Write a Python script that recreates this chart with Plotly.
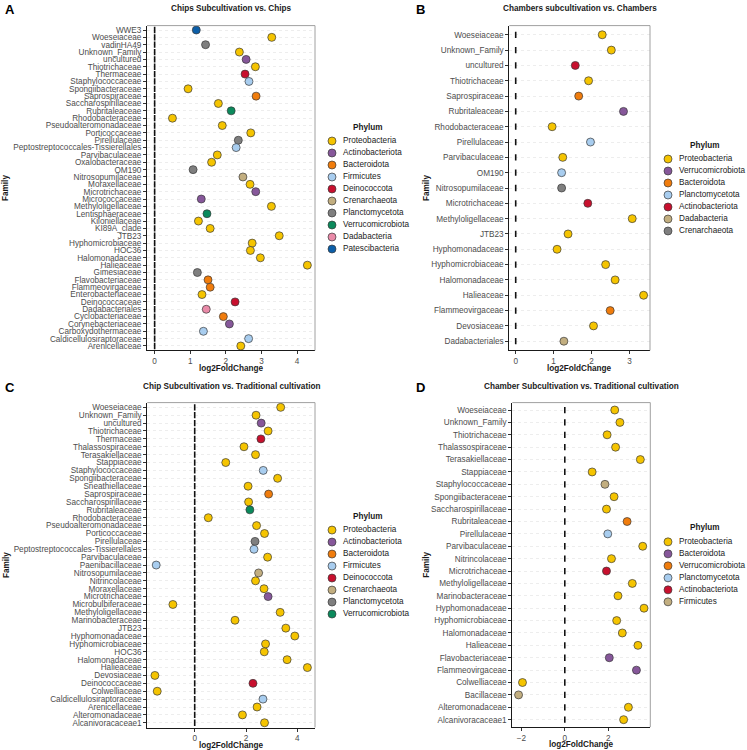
import plotly.graph_objects as go

W, H = 747, 750
FONT = "Liberation Sans, Arial, sans-serif"

PALETTE = ["#F5C400", "#86579A", "#F07C0C", "#A8CDEF", "#C8102E",
           "#C2AE80", "#7F7F7F", "#0B8A5C", "#E98AA8", "#0B5EA8"]

# ---------------- Panel A ----------------
a_title = "Chips Subcultivation vs. Chips"
a_family = ["WWE3", "Woeseiaceae", "vadinHA49", "Unknown_Family", "uncultured",
            "Thiotrichaceae", "Thermaceae", "Staphylococcaceae", "Spongiibacteraceae",
            "Saprospiraceae", "Saccharospirillaceae", "Rubritaleaceae", "Rhodobacteraceae",
            "Pseudoalteromonadaceae", "Porticoccaceae", "Pirellulaceae",
            "Peptostreptococcales-Tissierellales", "Parvibaculaceae", "Oxalobacteraceae",
            "OM190", "Nitrosopumilaceae", "Moraxellaceae", "Microtrichaceae",
            "Micrococcaceae", "Methyloligellaceae", "Lentisphaeraceae", "Kiloniellaceae",
            "KI89A_clade", "JTB23", "Hyphomicrobiaceae", "HOC36", "Halomonadaceae",
            "Halieaceae", "Gimesiaceae", "Flavobacteriaceae", "Flammeovirgaceae",
            "Enterobacteriaceae", "Deinococcaceae", "Dadabacteriales", "Cyclobacteriaceae",
            "Corynebacteriaceae", "Carboxydothermaceae", "Caldicellulosiraptoraceae",
            "Arenicellaceae"]
a_lfc = [1.17, 3.29, 1.43, 2.38, 2.57, 2.83, 2.54, 2.65, 0.94, 2.85, 1.79, 2.15, 0.50,
         1.90, 2.70, 2.35, 2.29, 1.76, 1.60, 1.08, 2.48, 2.68, 2.84, 1.31, 3.28, 1.47,
         1.23, 1.56, 3.50, 2.74, 2.69, 2.97, 4.29, 1.20, 1.50, 1.56, 1.33, 2.26, 1.45,
         1.93, 2.10, 1.37, 2.64, 2.42]
a_phylum = ["Patescibacteria", "Proteobacteria", "Planctomycetota", "Proteobacteria",
            "Actinobacteriota", "Proteobacteria", "Deinococcota", "Firmicutes",
            "Proteobacteria", "Bacteroidota", "Proteobacteria", "Verrucomicrobiota",
            "Proteobacteria", "Proteobacteria", "Proteobacteria", "Planctomycetota",
            "Firmicutes", "Proteobacteria", "Proteobacteria", "Planctomycetota",
            "Crenarchaeota", "Proteobacteria", "Actinobacteriota", "Actinobacteriota",
            "Proteobacteria", "Verrucomicrobiota", "Proteobacteria", "Proteobacteria",
            "Proteobacteria", "Proteobacteria", "Proteobacteria", "Proteobacteria",
            "Proteobacteria", "Planctomycetota", "Bacteroidota", "Bacteroidota",
            "Proteobacteria", "Deinococcota", "Dadabacteria", "Bacteroidota",
            "Actinobacteriota", "Firmicutes", "Firmicutes", "Proteobacteria"]
a_legend = ["Proteobacteria", "Actinobacteriota", "Bacteroidota", "Firmicutes",
            "Deinococcota", "Crenarchaeota", "Planctomycetota", "Verrucomicrobiota",
            "Dadabacteria", "Patescibacteria"]
a_ticks = [0, 1, 2, 3, 4]

# ---------------- Panel B ----------------
b_title = "Chambers subcultivation vs. Chambers"
b_family = ["Woeseiaceae", "Unknown_Family", "uncultured", "Thiotrichaceae",
            "Saprospiraceae", "Rubritaleaceae", "Rhodobacteraceae", "Pirellulaceae",
            "Parvibaculaceae", "OM190", "Nitrosopumilaceae", "Microtrichaceae",
            "Methyloligellaceae", "JTB23", "Hyphomonadaceae", "Hyphomicrobiaceae",
            "Halomonadaceae", "Halieaceae", "Flammeovirgaceae", "Devosiaceae",
            "Dadabacteriales"]
b_lfc = [2.28, 2.52, 1.57, 1.92, 1.66, 2.84, 0.96, 1.97, 1.24, 1.21, 1.21, 1.90,
         3.07, 1.38, 1.09, 2.37, 2.62, 3.37, 2.49, 2.05, 1.27]
b_phylum = ["Proteobacteria", "Proteobacteria", "Actinobacteriota", "Proteobacteria",
            "Bacteroidota", "Verrucomicrobiota", "Proteobacteria", "Planctomycetota",
            "Proteobacteria", "Planctomycetota", "Crenarchaeota", "Actinobacteriota",
            "Proteobacteria", "Proteobacteria", "Proteobacteria", "Proteobacteria",
            "Proteobacteria", "Proteobacteria", "Bacteroidota", "Proteobacteria",
            "Dadabacteria"]
b_legend = ["Proteobacteria", "Verrucomicrobiota", "Bacteroidota", "Planctomycetota",
            "Actinobacteriota", "Dadabacteria", "Crenarchaeota"]
b_ticks = [0, 1, 2, 3]

# ---------------- Panel C ----------------
c_title = "Chip Subcultivation vs. Traditional cultivation"
c_family = ["Woeseiaceae", "Unknown_Family", "uncultured", "Thiotrichaceae", "Thermaceae",
            "Thalassospiraceae", "Terasakiellaceae", "Stappiaceae", "Staphylococcaceae",
            "Spongiibacteraceae", "Sneathiellaceae", "Saprospiraceae",
            "Saccharospirillaceae", "Rubritaleaceae", "Rhodobacteraceae",
            "Pseudoalteromonadaceae", "Porticoccaceae", "Pirellulaceae",
            "Peptostreptococcales-Tissierellales", "Parvibaculaceae", "Paenibacillaceae",
            "Nitrosopumilaceae", "Nitrincolaceae", "Moraxellaceae", "Microtrichaceae",
            "Microbulbiferaceae", "Methyloligellaceae", "Marinobacteraceae", "JTB23",
            "Hyphomonadaceae", "Hyphomicrobiaceae", "HOC36", "Halomonadaceae",
            "Halieaceae", "Devosiaceae", "Deinococcaceae", "Colwelliaceae",
            "Caldicellulosiraptoraceae", "Arenicellaceae", "Alteromonadaceae",
            "Alcanivoracaceae1"]
c_lfc = [3.35, 2.39, 2.59, 2.86, 2.58, 1.92, 2.37, 1.21, 2.67, 3.23, 2.08, 2.88, 2.10,
         2.15, 0.53, 2.41, 2.72, 2.35, 2.31, 2.84, -1.50, 2.49, 2.37, 2.70, 2.86, -0.85,
         3.33, 1.57, 3.55, 3.90, 2.76, 2.71, 3.60, 4.39, -1.55, 2.27, -1.46, 2.66, 2.43,
         1.86, 2.72]
c_phylum = ["Proteobacteria", "Proteobacteria", "Actinobacteriota", "Proteobacteria",
            "Deinococcota", "Proteobacteria", "Proteobacteria", "Proteobacteria",
            "Firmicutes", "Proteobacteria", "Proteobacteria", "Bacteroidota",
            "Proteobacteria", "Verrucomicrobiota", "Proteobacteria", "Proteobacteria",
            "Proteobacteria", "Planctomycetota", "Firmicutes", "Proteobacteria",
            "Firmicutes", "Crenarchaeota", "Proteobacteria", "Proteobacteria",
            "Actinobacteriota", "Proteobacteria", "Proteobacteria", "Proteobacteria",
            "Proteobacteria", "Proteobacteria", "Proteobacteria", "Proteobacteria",
            "Proteobacteria", "Proteobacteria", "Proteobacteria", "Deinococcota",
            "Proteobacteria", "Firmicutes", "Proteobacteria", "Proteobacteria",
            "Proteobacteria"]
c_legend = ["Proteobacteria", "Actinobacteriota", "Bacteroidota", "Firmicutes",
            "Deinococcota", "Crenarchaeota", "Planctomycetota", "Verrucomicrobiota"]
c_ticks = [0, 2, 4]

# ---------------- Panel D ----------------
d_title = "Chamber Subcultivation vs. Traditional cultivation"
d_family = ["Woeseiaceae", "Unknown_Family", "Thiotrichaceae", "Thalassospiraceae",
            "Terasakiellaceae", "Stappiaceae", "Staphylococcaceae", "Spongiibacteraceae",
            "Saccharospirillaceae", "Rubritaleaceae", "Pirellulaceae", "Parvibaculaceae",
            "Nitrincolaceae", "Microtrichaceae", "Methyloligellaceae", "Marinobacteraceae",
            "Hyphomonadaceae", "Hyphomicrobiaceae", "Halomonadaceae", "Halieaceae",
            "Flavobacteriaceae", "Flammeovirgaceae", "Colwelliaceae", "Bacillaceae",
            "Alteromonadaceae", "Alcanivoracaceae1"]
d_lfc = [2.30, 2.54, 1.95, 2.34, 3.48, 1.26, 1.85, 2.27, 1.92, 2.87, 1.98, 3.59, 2.15,
         1.92, 3.11, 2.45, 3.65, 2.39, 2.65, 3.37, 2.05, 3.30, -1.95, -2.13, 2.93, 2.71]
d_phylum = ["Proteobacteria", "Proteobacteria", "Proteobacteria", "Proteobacteria",
            "Proteobacteria", "Proteobacteria", "Firmicutes", "Proteobacteria",
            "Proteobacteria", "Verrucomicrobiota", "Planctomycetota", "Proteobacteria",
            "Proteobacteria", "Actinobacteriota", "Proteobacteria", "Proteobacteria",
            "Proteobacteria", "Proteobacteria", "Proteobacteria", "Proteobacteria",
            "Bacteroidota", "Bacteroidota", "Proteobacteria", "Firmicutes",
            "Proteobacteria", "Proteobacteria"]
d_legend = ["Proteobacteria", "Bacteroidota", "Verrucomicrobiota", "Planctomycetota",
            "Actinobacteriota", "Firmicutes"]
d_ticks = [-2, 0, 2]

# ---------------- layout geometry (pixels) ----------------
panels = [
    dict(tag="A", title=a_title, fam=a_family, lfc=a_lfc, phy=a_phylum, leg=a_legend,
         ticks=a_ticks, px=(147, 315), py=(25.6, 350.4), legx=332, legc=368,
         fam_x=6, lab=(3, 9.5), ty=8.5),
    dict(tag="B", title=b_title, fam=b_family, lfc=b_lfc, phy=b_phylum, leg=b_legend,
         ticks=b_ticks, px=(509.3, 650), py=(25.6, 350.4), legx=668, legc=704.5,
         fam_x=427, lab=(414, 9.5), ty=8.5),
    dict(tag="C", title=c_title, fam=c_family, lfc=c_lfc, phy=c_phylum, leg=c_legend,
         ticks=c_ticks, px=(147.3, 315), py=(402.6, 727.5), legx=332, legc=368,
         fam_x=6, lab=(3, 387), ty=386.5),
    dict(tag="D", title=d_title, fam=d_family, lfc=d_lfc, phy=d_phylum, leg=d_legend,
         ticks=d_ticks, px=(512.3, 650.3), py=(402.6, 727.1), legx=668, legc=704.5,
         fam_x=427, lab=(414, 387), ty=386.5),
]


def fx(p):
    return p / W


def fy(p):
    return 1 - p / H


def ax_ids(k):
    s = "" if k == 1 else str(k)
    return f"xaxis{s}", f"yaxis{s}", f"x{s}", f"y{s}"


fig = go.Figure()
layout = dict(
    width=W, height=H, margin=dict(l=0, r=0, t=0, b=0),
    paper_bgcolor="white", plot_bgcolor="white", showlegend=False,
    font=dict(family=FONT, size=8.2, color="#1a1a1a"),
)
annotations = []
shapes = []

FS = 8.2
for i, p in enumerate(panels):
    k = i + 1
    xa, ya, xr, yr = ax_ids(k)
    n = len(p["fam"])
    lo = min(0, min(p["lfc"]))
    hi = max(0, max(p["lfc"]))
    pad = 0.05 * (hi - lo)
    colors = [PALETTE[p["leg"].index(ph)] for ph in p["phy"]]

    # reference line at 0 (one dash per row, as drawn in the original)
    fig.add_trace(go.Scatter(
        x=[0] * n, y=p["fam"], mode="markers", xaxis=xr, yaxis=yr,
        marker=dict(symbol="line-ns", size=4.5, line=dict(color="#111", width=1.6)),
        hoverinfo="skip"))
    fig.add_trace(go.Scatter(
        x=p["lfc"], y=p["fam"], mode="markers", xaxis=xr, yaxis=yr,
        marker=dict(size=8, color=colors, line=dict(color="#3a3a3a", width=0.7)),
        text=p["phy"], cliponaxis=False))

    layout[xa] = dict(
        domain=[fx(p["px"][0]), fx(p["px"][1])], anchor=yr,
        range=[lo - pad, hi + pad], tickvals=p["ticks"], ticks="outside", ticklen=3,
        tickcolor="#333", tickwidth=0.8, showline=True, linecolor="#1a1a1a",
        linewidth=1, showgrid=False, zeroline=False,
        tickfont=dict(size=FS, color="#4d4d4d", family=FONT))
    layout[ya] = dict(
        domain=[fy(p["py"][1]), fy(p["py"][0])], anchor=xr, type="category",
        categoryorder="array", categoryarray=p["fam"][::-1],
        tickmode="array", tickvals=p["fam"], ticktext=p["fam"],
        range=[-0.6, n - 0.4], ticks="outside", ticklen=3, tickcolor="#333",
        tickwidth=0.8, showline=True, linecolor="#1a1a1a", linewidth=1,
        showgrid=True, gridcolor="#ededed", gridwidth=0.6, griddash="dot",
        zeroline=False, tickfont=dict(size=FS, color="#4d4d4d", family=FONT))

    # panel border (top, right)
    shapes.append(dict(type="line", xref=f"{xr} domain", yref=f"{yr} domain",
                       x0=0, x1=1, y0=1, y1=1, line=dict(color="#a0a0a0", width=1)))
    shapes.append(dict(type="line", xref=f"{xr} domain", yref=f"{yr} domain",
                       x0=1, x1=1, y0=0, y1=1, line=dict(color="#a0a0a0", width=1)))

    # legend on its own hidden axis
    m = len(p["leg"])
    _, _, lxr, lyr = ax_ids(k + 4)
    cy = (p["py"][0] + p["py"][1]) / 2
    first = cy - 12 * (m - 1) / 2 + 7
    top = first - 6
    bot = first + 12 * (m - 1) + 6
    layout[f"xaxis{k + 4}"] = dict(domain=[fx(p["legx"]), fx(p["legx"] + 11)], anchor=lyr,
                                   range=[0, 1], visible=False, fixedrange=True)
    layout[f"yaxis{k + 4}"] = dict(domain=[fy(bot), fy(top)], anchor=lxr, type="category",
                                   categoryorder="array", categoryarray=p["leg"][::-1],
                                   range=[-0.5, m - 0.5], visible=False, fixedrange=True)
    fig.add_trace(go.Scatter(
        x=[0] * m, y=p["leg"], mode="markers", xaxis=lxr, yaxis=lyr, cliponaxis=False,
        marker=dict(size=8, color=PALETTE[:m], line=dict(color="#3a3a3a", width=0.7)),
        hoverinfo="skip"))
    fig.add_trace(go.Scatter(
        x=[1] * m, y=p["leg"], mode="text", text=p["leg"], textposition="middle right",
        xaxis=lxr, yaxis=lyr, cliponaxis=False,
        textfont=dict(size=FS, color="#1a1a1a", family=FONT), hoverinfo="skip"))
    annotations.append(dict(text="<b>Phylum</b>", xref="paper", yref="paper",
                            x=fx(p["legc"]), y=fy(first - 14), showarrow=False,
                            xanchor="center", yanchor="middle",
                            font=dict(size=FS, color="#1a1a1a")))

    # axis titles
    annotations.append(dict(text="<b>log2FoldChange</b>", xref="paper", yref="paper",
                            x=fx((p["px"][0] + p["px"][1]) / 2), y=fy(p["py"][1] + 17.8),
                            showarrow=False, xanchor="center", yanchor="middle",
                            font=dict(size=FS, color="#1a1a1a")))
    annotations.append(dict(text="<b>Family</b>", xref="paper", yref="paper",
                            x=fx(p["fam_x"]), y=fy(cy), textangle=-90, showarrow=False,
                            xanchor="center", yanchor="middle",
                            font=dict(size=FS, color="#1a1a1a")))
    # panel title (centred over the panel) and tag
    annotations.append(dict(text=f"<b>{p['title']}</b>", xref="paper", yref="paper",
                            x=fx((p["px"][0] + p["px"][1]) / 2), y=fy(p["ty"]),
                            showarrow=False, xanchor="center", yanchor="middle",
                            font=dict(size=8.2, color="#1a1a1a")))
    annotations.append(dict(text=f"<b>{p['tag']}</b>", xref="paper", yref="paper",
                            x=fx(p["lab"][0]), y=fy(p["lab"][1]), showarrow=False,
                            xanchor="left", yanchor="middle",
                            font=dict(size=13, color="#000")))

layout["annotations"] = annotations
layout["shapes"] = shapes
fig.update_layout(**layout)
fig.write_html("out.html",
               config={"displayModeBar": False},
               post_script="document.body.style.margin='0';"
                           "document.body.style.overflow='hidden';")
